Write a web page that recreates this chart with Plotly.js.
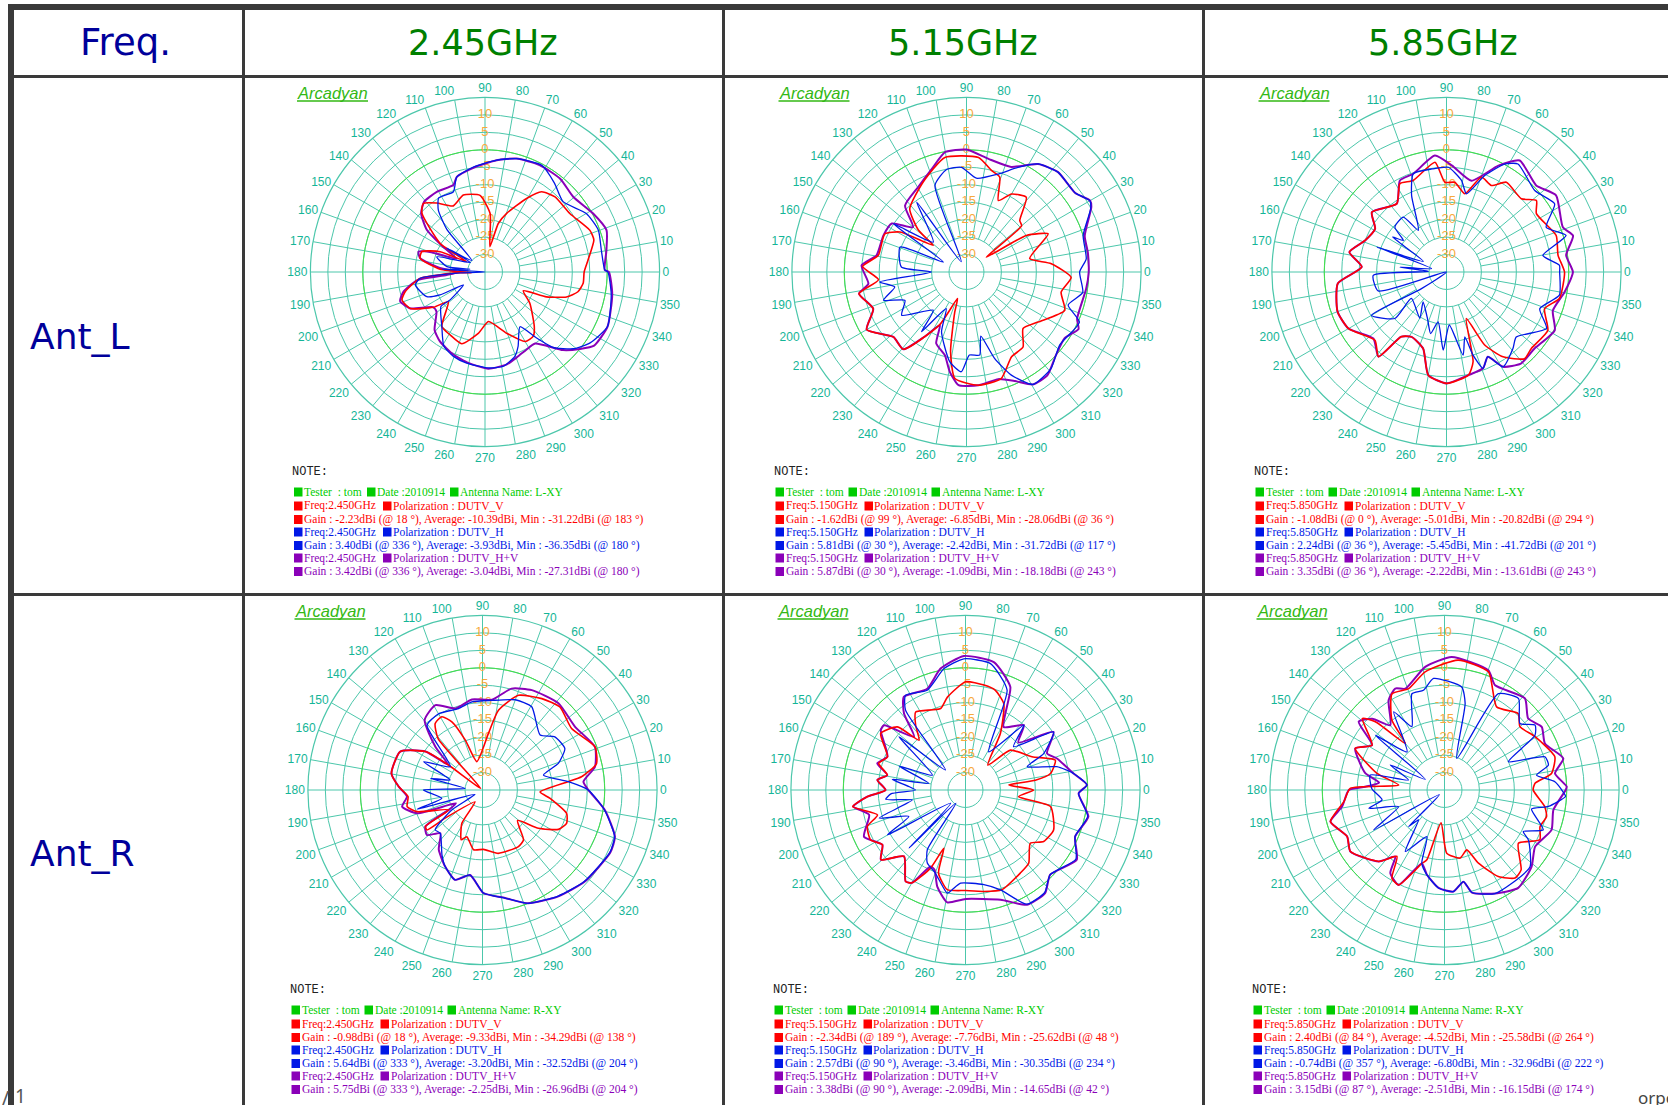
<!DOCTYPE html>
<html><head><meta charset="utf-8">
<script src="https://cdn.plot.ly/plotly-3.0.1.min.js"></script>
<style>html,body{margin:0;padding:0;background:#fff}</style></head>
<body><div id="chart" style="width:1668px;height:1105px"></div>
<script>
// Each series: list of [angle in degrees, gain in dBi].
const L245_HV=[[1,-.7],[0,.5],[350,2],[336,3.42],[326,2.7],[321,0],[315,-3.4],[305,-10],[298,-9.8],[291,-9],[283,-7.8],[272,-7.3],[260,-8.5],[249,-9.7],[237,-11.3],[229,-13],[219,-17.1],[214,-17],[206,-11.2],[199,-9.3],[193.5,-11],[187,-15.4],[184.5,-24],[180,-27.3],[175,-22],[168,-16],[163,-15.1],[160,-18.2],[155,-26],[149,-21],[144,-14.4],[137.5,-10.2],[131,-8.4],[121,-8.2],[110,-8.5],[106.5,-6.6],[96,-4.9],[84,-2.8],[74.5,-1.3],[63,-.6],[51,-.7],[40.5,-1.8],[28.4,.2],[19,1.8],[10,.3]];
const L245_H=[[0,.2],[350,1.7],[336,3.4],[326,1.3],[319,-1.5],[312,-6],[308,-11],[302.6,-16.4],[294,-11.7],[289.5,-9.4],[281,-7.5],[272,-7.5],[258.6,-8.4],[249.5,-9.2],[241,-10.7],[231.6,-15.1],[218,-19],[218.6,-22.2],[211,-27.8],[207,-20.5],[203,-16.9],[190.5,-14.7],[185.6,-16.3],[182,-28],[180,-35],[176.5,-22.6],[170,-30.6],[172,-24],[162.4,-20.5],[147,-30],[148,-22.1],[139,-30],[132,-18.8],[127,-12.8],[122,-10],[111.5,-10.3],[106.5,-6.6],[96,-4.7],[84,-2.8],[74.5,-1.3],[62,-.4],[52,-2.7],[42,-4.9],[30,-1.5],[20.3,-.4],[10.7,-1.1],[1,-.7]];
const L245_V=[[0,-6.6],[353.4,-6.7],[348,-7.8],[343,-10.6],[338,-16],[334,-22.8],[325,-19.3],[312,-13.9],[307,-12],[300,-12],[289.5,-16.4],[274,-20.8],[264,-17.4],[252,-13.4],[241,-14.4],[231.6,-15.1],[219,-21.5],[214.4,-17.1],[206,-11.2],[198.6,-9.9],[193.8,-11.5],[185.6,-16.3],[181.5,-27.8],[183,-31.22],[176.5,-22.1],[168,-16],[162,-16],[155.7,-20.9],[150.6,-29],[147.5,-19.8],[137,-10.3],[132,-8.6],[125,-10.9],[115.6,-14],[105.7,-12.1],[93.7,-13],[85,-18.2],[79,-27.6],[74.7,-20.6],[69.7,-17.1],[60.5,-10.8],[54.8,-6.9],[47,-5.6],[34.6,-5.5],[21.8,-2.7],[16.4,-2.5],[6.6,-5.3]];

const L515_HV=[[0,0],[352,-.4],[337,-.6],[333,1],[326,-1.1],[317,0],[308,2.6],[300.6,2.4],[294,-.8],[286.5,-3],[276,-2.4],[266,-2.5],[260.5,-6],[255.4,-10.4],[247,-12.8],[243.4,-18],[237,-12.9],[230.7,-6.4],[221.6,-7],[210,-2],[201.5,-6.3],[191.4,-3.6],[186.8,-6.7],[176.4,-4.9],[169.5,-8.8],[156.2,-9],[147,-9.5],[140,-15],[132.8,-9.1],[119.6,-7],[108.7,-3.9],[100,-.1],[90,.05],[79,-2],[67,-2.3],[56.5,2.1],[47.5,3.8],[36,3.5],[30,5.87],[27.5,5.3],[17,.4],[9.3,.2]];
const L515_H=[[0,-2.6],[350,-1.2],[342,-4.4],[336,.4],[322,-1.1],[311,1.8],[300.6,2.4],[293.5,-2.8],[288,-9],[282.6,-16.2],[279,-10.9],[272,-11.2],[267,-6.4],[259.5,-8.8],[247.4,-16.4],[241,-23],[233,-13.6],[229,-20.5],[213.7,-12.7],[204.7,-15.6],[198.8,-9.9],[191.8,-14],[186.6,-10],[180,-25],[175.6,-16.3],[159.4,-14.7],[156.8,-27.8],[146.6,-9.9],[138,-22.2],[125.5,-10.4],[117,-31.7],[110,-8.6],[101,-5.1],[92.7,-5],[84,-8],[72,-5.5],[63.8,-1.6],[56.5,2.1],[47.5,3.8],[36,3.5],[30,5.81],[27,4.9],[17.4,0],[6.3,-.5]];
const L515_V=[[357,-5],[348,-7.3],[338.7,-4.8],[325,-10],[315,-12.1],[307,-8.1],[298,-7.5],[288,-2.9],[276,-2.4],[263.8,-4.3],[258.7,-11.7],[253.7,-23],[251.3,-27],[243,-18],[230.7,-6.4],[221.6,-7],[210,-2],[201.5,-6.3],[191.4,-3.6],[185,-9.7],[177,-5.2],[169.3,-9.3],[155,-9.2],[149,-12.8],[141.3,-22.8],[139,-16.8],[132,-10.7],[115.7,-6.4],[100.7,-1.6],[84,-2],[76,-5.1],[70.7,-6.2],[66,-12.6],[60,-9.2],[51.3,-7.6],[44,-13.8],[40,-14.4],[36.9,-27.9],[31.4,-14.9],[25,-9.2],[12,-16.5],[5.6,-10.6]];

const L585_HV=[[0,1.2],[350.4,-.7],[340,-2.6],[331.7,.2],[319,-1.6],[309,-1.2],[300.8,-3.4],[296,-8],[290.8,-5.5],[282,-4.8],[270,-3.1],[260,-5],[253,-12.1],[241.7,-13.9],[235,-12.4],[231.2,-3.9],[222.3,-6.7],[210,-2.6],[200,-1.8],[186,-3.7],[176.6,-10.7],[168.4,-6.6],[158.8,-10],[148.8,-11.1],[141.3,-7.6],[126,-10.8],[117,-5.6],[108.7,-5.3],[95.7,-1.5],[87,-4.5],[74.7,-7.9],[64,-1.1],[56.7,3.2],[44,.7],[35,3.3],[21,.7],[16,2.7],[8,-.4]];
const L585_H=[[0,-2.6],[348.4,-2],[338.5,-6.3],[330.5,-2.1],[317,-7.7],[311,-6],[300.8,-3.4],[296,-8],[290.8,-5.5],[287.7,-10],[285.8,-15.7],[281.3,-10.7],[273,-19.8],[267.6,-12.6],[260.5,-20.5],[255.5,-16.8],[247.8,-20.6],[232,-24.1],[240,-19.7],[217,-22.4],[222,-15.1],[210,-10.2],[213.7,-26.4],[201,-35],[195.5,-14.7],[182.6,-14],[178,-29.8],[174,-21.6],[167,-30.6],[160.3,-13.8],[155.4,-27.7],[147,-16.6],[143.8,-19.7],[139,-15.4],[128.2,-15],[124,-20.6],[114.5,-10.9],[108.7,-5.3],[98,-5.2],[89,-5],[80.7,-8.4],[75.7,-11.9],[68.4,-5.3],[61.7,.1],[56.5,2.1],[42.7,-.6],[32.2,1.6],[24.2,-3.7],[17,.8],[9.8,-7],[3.4,-2.6]];
const L585_V=[[0,-1.2],[346.8,-1.8],[339.5,-5],[330,-1.5],[318,-2.3],[312,-1.6],[303.7,-5.8],[297.6,-11.4],[293,-20.5],[286.5,-8.2],[282,-4.8],[270,-3.1],[260,-5],[253,-12.1],[241.7,-13.9],[235,-12.4],[231.2,-3.9],[223.6,-6.7],[210,-2.6],[200,-1.8],[186,-3.7],[176.6,-10.7],[168.4,-6.6],[158.8,-10],[148.8,-11.1],[141.3,-7.6],[126,-10.8],[117.8,-6.4],[110,-7.1],[96,-3.4],[91,-9.3],[84.7,-9.2],[76.8,-12],[69.8,-6],[62.6,-7.1],[56.3,-4.1],[44.4,-5],[38.5,-2.1],[33,-4.3],[18.4,-1.9],[8.5,-2.7]];

const R245_HV=[[0,-4.7],[350.7,.5],[340.6,5.2],[333.9,5.75],[318,4.3],[305.5,2.4],[292,0],[281.8,-3.4],[270.5,-5.5],[261.7,-10.4],[253,-8.1],[244,-10.6],[233.8,-13.8],[225.7,-17.7],[219,-14.5],[212.6,-15.6],[210.5,-23.8],[206.6,-26.5],[199.6,-15.1],[191.7,-11.5],[185,-13.3],[177.7,-11],[169.7,-8.5],[155,-9],[146,-15.3],[143.7,-22.9],[137.5,-16.7],[129.6,-9],[119,-7.2],[108.5,-10.4],[96.7,-8.9],[84,-9],[74,-4.8],[63.7,-3.1],[48.8,-2],[34.3,-2.9],[21,-.5],[11.7,-2.1],[4.7,-6]];
const R245_H=[[0,-4.7],[350.7,.4],[340.6,5.1],[333.9,5.64],[318,4.2],[305.5,2.3],[292,0],[281.8,-3.4],[270.5,-5.5],[261.7,-10.4],[253,-8.1],[244,-10.6],[238,-13.1],[225.7,-17.7],[220,-17.3],[213,-24.5],[210,-32.5],[196.4,-15.5],[191.6,-23.1],[180,-18.1],[175,-30],[167.4,-19.7],[162.8,-25.3],[154.3,-16.3],[144,-23.6],[130.6,-10.6],[119.9,-9.8],[106.4,-10.7],[96.9,-9.6],[84,-9.2],[70,-7.5],[59.4,-7.3],[43.6,-12.2],[36.3,-9.3],[26.7,-8.6],[19.3,-12],[13.8,-17],[5.5,-10.3]];
const R245_V=[[358,-18.5],[353,-15.5],[344.5,-10],[338.4,-9.1],[332.6,-10.5],[325.6,-15.6],[319,-21.7],[309.4,-16.5],[302.4,-15.8],[284,-16.3],[271,-18],[261.5,-17.7],[251.4,-20.9],[246.9,-19.5],[238.2,-23.8],[237.8,-31],[217,-21.6],[215.7,-15.4],[212.6,-15.6],[210.5,-23.8],[198.3,-15.3],[192.4,-12.9],[185,-13.6],[177.7,-11],[169.7,-8.5],[155,-9],[146,-15.3],[143.7,-22.9],[138,-34.29],[130.8,-15.5],[125.4,-11.6],[119,-11],[114.2,-13.6],[109,-19.9],[101.3,-26.7],[84,-18.7],[78.7,-11.7],[69.2,-6],[57,-3.8],[47,-2.5],[34.6,-4],[21,-.5],[13,-1.5],[7.6,-6.4],[5.5,-10.4]];

const R515_HV=[[358.3,-2.6],[347.8,1],[337,-.9],[327.9,2.6],[315,-.7],[307.7,2.3],[298.2,2.3],[287.7,-2],[270,-3.8],[260.8,-2.4],[253.7,-6.2],[248.8,-10.5],[245.5,-10.9],[240,-4.3],[236.8,-3.7],[227.2,-9.1],[219.5,-3.6],[213.4,-6.5],[204.7,-3],[194.5,-6.5],[188.4,-2.5],[183.9,-6.8],[180,-12.1],[173.5,-9.6],[169.2,-12.2],[163.2,-8.6],[156.9,-10.7],[144.8,-5.3],[141.5,-5.2],[134,-13.8],[128.8,-6.9],[123.5,-3],[110.7,-4],[101.6,.5],[90.7,3.38],[77.5,2.5],[66.5,-2.8],[58.8,-13.9],[48,-10],[42,-14.65],[33.4,-4.8],[24.2,-9.4],[19,-7.3],[8.7,-3.7],[2.4,-.2]];
const R515_H=[[358.3,-2.6],[347.8,.8],[337,-.9],[327.9,2.3],[315,-.7],[307.7,2.1],[298.2,2.1],[289.3,-4.7],[281,-7.4],[267,-8.3],[262.4,-6.2],[260,-5],[250,-9.7],[242.4,-11.4],[237.4,-14.7],[234,-30.3],[225.8,-11.8],[221.6,-29.3],[209.9,-9.2],[205,-17.1],[198,-9],[190.6,-19.5],[186.7,-12],[183,-13.6],[180,-20.7],[171.7,-13.8],[169.7,-24.3],[160.2,-14.8],[155.8,-24.6],[141.3,-10.6],[135,-26.9],[126.9,-6.4],[122.3,-2.9],[111,-4.4],[100,.3],[90.7,2.57],[78.8,1.9],[67.4,-4],[58.7,-22.2],[48,-10],[42,-16.5],[33.4,-4.8],[25,-10.3],[20.7,-16.1],[14.3,-8],[8.7,-3.7],[2.4,-.2]];
const R515_V=[[0,-15.5],[352.9,-19.7],[349,-10.2],[335.6,-7.3],[326.6,-8.2],[320.6,-11],[310.8,-7.3],[303.4,-6.5],[290,-4.6],[280,-5.5],[270,-6.2],[259.6,-6],[252,-10],[249.6,-17.2],[245.9,-10.5],[240,-4.3],[236.8,-3.7],[227.2,-9.1],[219.5,-3.6],[213.4,-6.5],[207.8,-4.3],[200.4,-5],[195.8,-8.8],[188.4,-2.34],[183.9,-6.8],[180,-12.1],[173.5,-9.6],[169.2,-12.2],[163,-9],[156.9,-10.7],[146.3,-5.8],[137.2,-8.4],[133,-15.5],[127.6,-11.6],[122.6,-8.5],[107,-10.6],[101,-7.9],[90,-4],[80,-4.5],[73.3,-5.2],[66,-8],[58.3,-16],[48.2,-25.4],[41.6,-17.8],[26.6,-13.7],[18.4,-7.9],[11,-10.2],[8,-14.8],[6.6,-22.5]];

const R585_HV=[[0,-.3],[349.6,-3.3],[339.6,-2.3],[328,-4.4],[318.7,-1.8],[307,.1],[296,-2],[285,-4.6],[281.7,-8.2],[275,-5.8],[266.5,-6.9],[258.3,-10.2],[252.8,-13],[244.2,-4.8],[236.9,-6.6],[233.5,-11.3],[227.4,-7.2],[213.2,-2.8],[205.5,-4.1],[195.5,-1.1],[189.2,-5.3],[180,-7.6],[177.6,-12.3],[173.5,-16.15],[168,-11.8],[155,-6.8],[148.2,-10.6],[141.5,-3.6],[135.4,-5.9],[129.9,-10.8],[121.9,-4.7],[115.9,-2.7],[111.1,-3.9],[98.9,.7],[86.9,3.15],[69.9,1.5],[64.2,-1.7],[48.7,-.1],[40.5,-3.5],[33,-1.8],[24.9,-3.3],[14.9,.2],[8.6,-3],[1.6,0]];
const R585_H=[[359,-1],[357,-.3],[351,-4.9],[347.7,-9.5],[338,-4.5],[332.2,-9.5],[329.2,-7],[318.2,-2.1],[308.8,-2],[296,-2],[285,-4.6],[281.7,-8.2],[275,-5.8],[266.5,-6.9],[258.3,-10.2],[252.8,-13],[249.3,-20.7],[237.5,-14.1],[229,-23.7],[225.5,-20.3],[222,-33],[209.4,-11.7],[200,-21],[193.6,-12.7],[189,-16.9],[179,-14.2],[168.6,-13.3],[164.5,-24.3],[155.3,-17.9],[151,-28.7],[141.6,-9.7],[134.5,-19.7],[123,-8.3],[117.3,-14.6],[108.7,-5.9],[101.9,-5.8],[95.6,-2.9],[80.5,-5.1],[76.6,-9.5],[68.7,-25.3],[60.8,-3.4],[51,-1.3],[41.4,-6.2],[35.6,-3.1],[31.2,-4.7],[23.9,-15],[18.3,-4.7],[13.5,-4.4],[9.2,-8.3],[4.3,-3.3]];
const R585_V=[[0,-9.6],[350.6,-5.9],[345.4,-4.8],[339,-5.7],[332.4,-4.2],[324.2,-8.9],[313.8,-3.3],[308.7,-2.7],[301.9,-5.8],[294.9,-11.9],[290.4,-16.7],[282.9,-15],[272,-16.9],[264,-25.58],[255.8,-14.4],[252.8,-12.9],[244.2,-4.8],[239.2,-5.6],[234.4,-11.6],[227.4,-7.2],[213.2,-2.8],[205.5,-4.1],[195.5,-1.1],[186.6,-6],[179,-8],[173.8,-21.8],[166.2,-15.1],[155,-6.8],[148.2,-10.6],[139,-3.8],[135.4,-7.2],[130,-17.6],[127,-10],[118.6,-3.6],[109.5,-4.2],[99.3,-.7],[84,2.4],[69.6,1.1],[57.9,-6.9],[46,-4.6],[40,-6.8],[30.5,-4.9],[16.8,-2],[8.8,-4],[4.2,-9]];

const freqs=['2.45GHz','5.15GHz','5.85GHz'];
const freqNotes=['2.450GHz','5.150GHz','5.850GHz'];
const antennas=['Ant_L','Ant_R'];
const antNames=['L-XY','R-XY'];
const gainLines=[
 ['-2.23dBi (@ 18 °), Average: -10.39dBi, Min : -31.22dBi (@ 183 °)','3.40dBi (@ 336 °), Average: -3.93dBi, Min : -36.35dBi (@ 180 °)','3.42dBi (@ 336 °), Average: -3.04dBi, Min : -27.31dBi (@ 180 °)'],
 ['-1.62dBi (@ 99 °), Average: -6.85dBi, Min : -28.06dBi (@ 36 °)','5.81dBi (@ 30 °), Average: -2.42dBi, Min : -31.72dBi (@ 117 °)','5.87dBi (@ 30 °), Average: -1.09dBi, Min : -18.18dBi (@ 243 °)'],
 ['-1.08dBi (@ 0 °), Average: -5.01dBi, Min : -20.82dBi (@ 294 °)','2.24dBi (@ 36 °), Average: -5.45dBi, Min : -41.72dBi (@ 201 °)','3.35dBi (@ 36 °), Average: -2.22dBi, Min : -13.61dBi (@ 243 °)'],
 ['-0.98dBi (@ 18 °), Average: -9.33dBi, Min : -34.29dBi (@ 138 °)','5.64dBi (@ 333 °), Average: -3.20dBi, Min : -32.52dBi (@ 204 °)','5.75dBi (@ 333 °), Average: -2.25dBi, Min : -26.96dBi (@ 204 °)'],
 ['-2.34dBi (@ 189 °), Average: -7.76dBi, Min : -25.62dBi (@ 48 °)','2.57dBi (@ 90 °), Average: -3.46dBi, Min : -30.35dBi (@ 234 °)','3.38dBi (@ 90 °), Average: -2.09dBi, Min : -14.65dBi (@ 42 °)'],
 ['2.40dBi (@ 84 °), Average: -4.52dBi, Min : -25.58dBi (@ 264 °)','-0.74dBi (@ 357 °), Average: -6.80dBi, Min : -32.96dBi (@ 222 °)','3.15dBi (@ 87 °), Average: -2.51dBi, Min : -16.15dBi (@ 174 °)']
];
const panelSeries=[[L245_HV,L245_V,L245_H],[L515_HV,L515_V,L515_H],[L585_HV,L585_V,L585_H],[R245_HV,R245_V,R245_H],[R515_HV,R515_V,R515_H],[R585_HV,R585_V,R585_H]];
const polLabels=['DUTV_V','DUTV_H','DUTV_H+V'];
const radialLabels=[-30,-25,-20,-15,-10,-5,0,5,10];
const angleTicks=[];for(let a=0;a<360;a+=10)angleTicks.push(a);

// layout constants (pixels)
const W=1668,H=1105,R=174.6;
const centers=[[485,272],[966.5,272],[1446.5,272],[482.5,790],[965.5,790],[1444.5,790]];
const GRID='#4cc7ab',TEAL='#14b597',GREEN='#45e045',RED='#ff0000',BLUE='#0018e6',PUR='#8a00b8',NOTEGREEN='#00cc00';
const px=x=>x/W, py=y=>1-y/H;
const data=[],shapes=[],ann=[];const layout={};

function text(x,y,t,size,color,family,anchor){
 ann.push({xref:'paper',yref:'paper',x:px(x),y:py(y),text:t,showarrow:false,xanchor:anchor||'left',yanchor:'middle',font:{size:size,color:color,family:family},borderpad:0,borderwidth:0});
}
function rect(x0,y0,x1,y1,color){
 shapes.push({type:'rect',xref:'paper',yref:'paper',x0:px(x0),x1:px(x1),y0:py(y0),y1:py(y1),fillcolor:color,line:{width:0},layer:'below'});
}
centers.forEach((c,i)=>{
 const id=i===0?'polar':'polar'+(i+1);
 layout[id]={domain:{x:[px(c[0]-R),px(c[0]+R)],y:[py(c[1]+R),py(c[1]-R)]},bgcolor:'rgba(0,0,0,0)',
  radialaxis:{range:[-35,15],tickmode:'linear',tick0:-35,dtick:5,showticklabels:false,ticks:'',showline:false,gridcolor:GRID,gridwidth:1},
  angularaxis:{direction:'counterclockwise',rotation:0,tickmode:'array',tickvals:angleTicks,ticktext:angleTicks.map(String),ticks:'',showgrid:false,showline:true,linecolor:GRID,linewidth:1.2,tickfont:{size:12,color:TEAL,family:'Liberation Sans'}}};
 const st=[],sr=[];
 angleTicks.forEach(a=>{const inner=(a%90===0)?-35:-25;st.push(a,a,null);sr.push(inner,15,null);});
 data.push({type:'scatterpolar',subplot:id,mode:'lines',theta:st,r:sr,line:{color:GRID,width:1},hoverinfo:'skip',showlegend:false,connectgaps:false});
 const rt=[],rr=[];for(let a=0;a<=360;a+=3){rt.push(a);rr.push(0);}
 data.push({type:'scatterpolar',subplot:id,mode:'lines',theta:rt,r:rr,line:{color:GREEN,width:1},hoverinfo:'skip',showlegend:false});
 data.push({type:'scatterpolar',subplot:id,mode:'text',theta:radialLabels.map(()=>90),r:radialLabels,text:radialLabels.map(String),textposition:'middle center',textfont:{size:13,color:'#f7a93c',family:'Liberation Sans'},hoverinfo:'skip',showlegend:false});
 [PUR,RED,BLUE].forEach((col,k)=>{
  const s=panelSeries[i][k];const cl=s.concat([s[0]]);
  data.push({type:'scatterpolar',subplot:id,mode:'lines',theta:cl.map(p=>p[0]),r:cl.map(p=>p[1]),line:{color:col,width:[2,1.6,1.3][k],shape:'spline',smoothing:0.55},name:polLabels[[2,0,1][k]],hoverinfo:'skip',showlegend:false});
 });
 const bx=c[0]-188,by=c[1]-179;
 text(bx,by,'<i>Arcadyan</i>',16.5,'#33b814','Liberation Sans');
 shapes.push({type:'line',xref:'paper',yref:'paper',x0:px(bx),x1:px(bx+71),y0:py(by+8),y1:py(by+8),line:{color:'#33b814',width:1.6}});
 const nx=c[0]-193,ny=c[1]+200;
 const col=i%3,row=Math.floor(i/3);
 text(nx,ny,'NOTE:',12,'#222','Liberation Mono');
 const sq=(x,y,color)=>rect(x,y-4.5,x+8.5,y+4.5,color);
 const F='Liberation Serif',FS=11.5;
 const y0=ny+20;
 sq(nx+2,y0,NOTEGREEN);text(nx+12,y0,'Tester&nbsp;&nbsp;: tom',FS,NOTEGREEN,F);
 sq(nx+75,y0,NOTEGREEN);text(nx+85,y0,'Date :2010914',FS,NOTEGREEN,F);
 sq(nx+158,y0,NOTEGREEN);text(nx+168,y0,'Antenna Name: '+antNames[row],FS,NOTEGREEN,F);
 [RED,BLUE,PUR].forEach((cc,k)=>{
  const ya=ny+34+k*26,yb=ny+47.5+k*26;
  sq(nx+2,ya,cc);text(nx+12,ya,'Freq:'+freqNotes[col],FS,cc,F);
  sq(nx+91,ya,cc);text(nx+101,ya,'Polarization : '+polLabels[k],FS,cc,F);
  sq(nx+2,yb,cc);text(nx+12,yb,'Gain : '+gainLines[i][k],FS,cc,F);
 });
});
const RULE='#3a3a3a';
rect(8,4,W,10,RULE);rect(8,4,14,H,RULE);
rect(14,75,W,78,RULE);rect(14,593,W,596,RULE);
[242,722,1202].forEach(x=>rect(x,10,x+3,H,RULE));
const HF='DejaVu Sans';
text(125.5,43,'Freq.',37,'#00009a',HF,'center');
const colMid=[483,963,1443];
freqs.forEach((f,i)=>text(colMid[i],43,f,35,'#008000',HF,'center'));
text(30,336,antennas[0],36,'#00009a',HF);
text(30,853,antennas[1],36,'#00009a',HF);
text(15,1096,'1',19,'#555','Noto Sans');
text(2,1098,'/',19,'#555','Noto Sans');
text(1638,1097,'orpo',17,'#444','Noto Sans');

Object.assign(layout,{width:W,height:H,margin:{l:0,r:0,t:0,b:0},paper_bgcolor:'#fff',showlegend:false,shapes:shapes,annotations:ann,font:{family:'Liberation Sans'}});
Plotly.newPlot('chart',data,layout,{displayModeBar:false,staticPlot:true});
</script></body></html>
